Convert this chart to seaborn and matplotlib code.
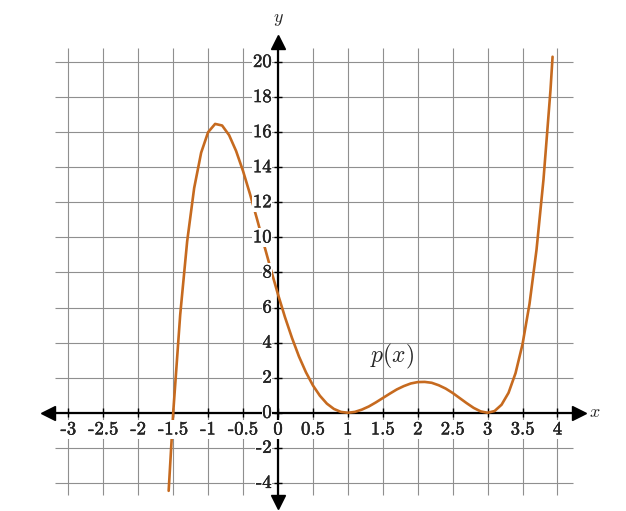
import numpy as np
import pandas as pd
import matplotlib
matplotlib.use("Agg")
import matplotlib.pyplot as plt
import matplotlib.patheffects as pe
import seaborn as sns

# curve p(x), values
curve_x = [-1.565, -1.5, -1.4, -1.3, -1.2, -1.1, -1.0, -0.9, -0.8, -0.7, -0.6,
           -0.5, -0.4, -0.3, -0.2, -0.1, 0.0, 0.1, 0.2, 0.3, 0.4, 0.5, 0.6,
           0.7, 0.8, 0.9, 1.0, 1.1, 1.2, 1.3, 1.4, 1.5, 1.6, 1.7, 1.8, 1.9,
           2.0, 2.1, 2.2, 2.3, 2.4, 2.5, 2.6, 2.7, 2.8, 2.9, 3.0, 3.1, 3.2,
           3.3, 3.4, 3.5, 3.6, 3.7, 3.8, 3.9, 3.93]
curve_y = [-4.45, 0.0, 5.58, 9.78, 12.81, 14.83, 16.0, 16.47, 16.38, 15.83, 14.93,
           13.78, 12.46, 11.04, 9.58, 8.14, 6.75, 5.45, 4.27, 3.21, 2.31, 1.56, 0.97,
           0.52, 0.22, 0.05, 0.0, 0.05, 0.18, 0.36, 0.59, 0.84, 1.09, 1.33, 1.52, 1.67,
           1.75, 1.76, 1.71, 1.57, 1.38, 1.13, 0.84, 0.55, 0.28, 0.08, 0.0, 0.10, 0.46,
           1.14, 2.26, 3.91, 6.21, 9.29, 13.30, 18.39, 20.3]

x_ticks = [-3, -2.5, -2, -1.5, -1, -0.5, 0, 0.5, 1, 1.5, 2, 2.5, 3, 3.5, 4]
x_tick_labels = ["-3", "-2.5", "-2", "-1.5", "-1", "-0.5", "0", "0.5", "1",
                 "1.5", "2", "2.5", "3", "3.5", "4"]
y_ticks = [-4, -2, 0, 2, 4, 6, 8, 10, 12, 14, 16, 18, 20]
y_tick_labels = ["-4", "-2", "0", "2", "4", "6", "8", "10", "12", "14", "16", "18", "20"]

sns.set_style("white")
plt.rcParams["mathtext.fontset"] = "cm"
plt.rcParams["font.family"] = ["cmr10", "DejaVu Serif"]

curve_color = "#c66a1f"
grid_color = "#8f8f8f"

fig = plt.figure(figsize=(6.26, 5.11), dpi=100)
ax = fig.add_axes([0, 0, 1, 1])
ax.set_xlim(-3.979, 4.981)
ax.set_ylim(-5.60, 23.535)
ax.axis("off")

# grid
ax.vlines(x_ticks, -4.69, 20.78, color=grid_color, lw=0.8, zorder=1)
ax.hlines(y_ticks, -3.19, 4.22, color=grid_color, lw=0.8, zorder=1)

# axes with arrows
ax.plot([-3.29, 4.31], [0, 0], color="black", lw=1.6, zorder=2)
ax.plot([0, 0], [-5.09, 21.14], color="black", lw=1.6, zorder=2)
ax.plot([4.31], [0], marker=">", ms=10, color="black", zorder=2)
ax.plot([-3.29], [0], marker="<", ms=10, color="black", zorder=2)
ax.plot([0], [21.14], marker="^", ms=10, color="black", zorder=2)
ax.plot([0], [-5.09], marker="v", ms=10, color="black", zorder=2)

# small tick marks
ax.vlines(x_ticks, -0.25, 0.25, color="black", lw=1.0, zorder=2)
ax.hlines(y_ticks, -0.06, 0.06, color="black", lw=1.0, zorder=2)

sns.lineplot(x=curve_x, y=curve_y, ax=ax, color=curve_color, lw=1.9,
             sort=False, estimator=None, zorder=3)

box = dict(facecolor="white", edgecolor="none", pad=0.5)
thick = [pe.withStroke(linewidth=0.3, foreground="black")]
for xv, lab in zip(x_ticks, x_tick_labels):
    ax.text(xv, -0.95, lab, ha="center", va="center", fontsize=13.5,
            bbox=box, zorder=4, path_effects=thick)
for yv, lab in zip(y_ticks, y_tick_labels):
    ax.text(-0.09, yv, lab, ha="right", va="center", fontsize=13.5,
            bbox=box, zorder=4, path_effects=thick)

ax.text(4.53, 0, "$x$", ha="center", va="center", fontsize=13, zorder=4)
ax.text(0, 22.4, "$y$", ha="center", va="center", fontsize=13, zorder=4)
ax.text(1.63, 3.2, "$p(x)$", ha="center", va="center", fontsize=17, zorder=4)

fig.savefig("out.png", dpi=100)
